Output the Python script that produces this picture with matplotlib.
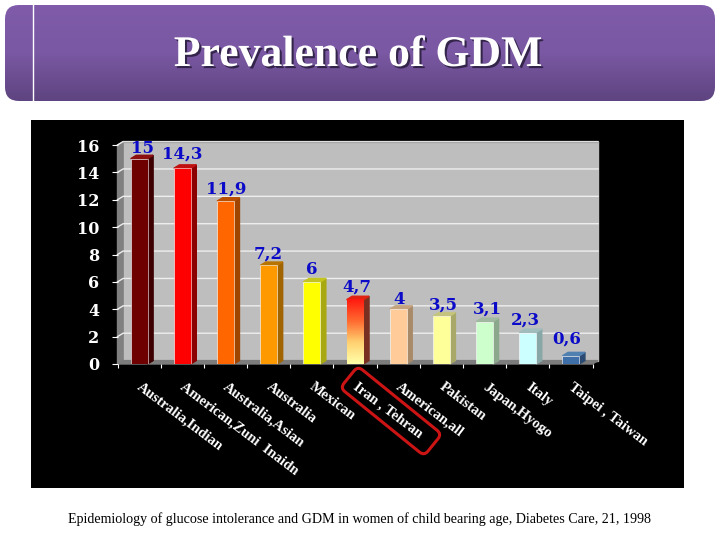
import numpy as np
import matplotlib
matplotlib.use('Agg')
import matplotlib.pyplot as plt
import matplotlib.patheffects as pe
from matplotlib.colors import LinearSegmentedColormap
from matplotlib.patches import FancyBboxPatch, Rectangle
from matplotlib.transforms import Affine2D

plt.rcParams['font.family'] = ['Liberation Serif', 'DejaVu Serif']

categories = ['Australia,Indian', 'American,Zuni  Inaidn', 'Australia,Asian', 'Australia', 'Mexican',
              'Iran , Tehran', 'American,all', 'Pakistan', 'Japan,Hyogo', 'Italy', 'Taipei , Taiwan']
values = [15, 14.3, 11.9, 7.2, 6, 4.7, 4, 3.5, 3.1, 2.3, 0.6]
value_labels = ['15', '14,3', '11,9', '7,2', '6', '4,7', '4', '3,5', '3,1', '2,3', '0,6']
front_colors = ['#6e0000', '#ff0000', '#ff6600', '#ff9900', '#ffff00', '#ff2010',
                '#ffcc99', '#ffff99', '#ccffcc', '#ccffff', '#3f6fa8']
side_colors = ['#3c0000', '#8c0000', '#a04500', '#a06400', '#a8a810', '#7a3020',
               '#a88a68', '#a8a868', '#8ca88c', '#88a8a8', '#2a4a72']
top_colors = ['#8c1010', '#c01010', '#b85000', '#b87400', '#c4c420', '#e02010',
              '#c4a47e', '#c4c47e', '#a0b8a0', '#a0bcbc', '#5080b0']
yticks = [0, 2, 4, 6, 8, 10, 12, 14, 16]

# hand placed value labels, offset from bar top in pixels
label_dx = [3.5, 0, 0.5, 0, 0, 2, 1, 2, 3, -2.5, -4]
label_dy = [6, 10, 8, 7, 8, 8.5, 5, 7, 7.5, 7.5, 12.5]

W, H = 720, 540
fig = plt.figure(figsize=(W / 100, H / 100), dpi=100, facecolor='white')

# slide background, in pixels
bg = fig.add_axes([0, 0, 1, 1])
bg.set_xlim(0, W)
bg.set_ylim(H, 0)
bg.axis('off')

banner = FancyBboxPatch((5, 5), 710, 96, boxstyle='round,pad=0,rounding_size=14',
                        fc='none', ec='none', transform=bg.transData)
bg.add_patch(banner)
purple = LinearSegmentedColormap.from_list('purple', ['#7f5ba9', '#7a58a3', '#5e4480'])
im = bg.imshow(np.linspace(0, 1, 96)[:, None], extent=(5, 715, 101, 5), cmap=purple, aspect='auto')
im.set_clip_path(banner)
bg.set_xlim(0, W)
bg.set_ylim(H, 0)
bg.plot([33, 33], [5, 101], color='white', lw=1)
bg.text(358, 55, 'Prevalence of GDM', color='white', fontsize=31.5, fontweight='bold', ha='center', va='center',
        path_effects=[pe.withSimplePatchShadow(offset=(1.5, -1.5), shadow_rgbFace='#2c1f40', alpha=0.9)])

bg.add_patch(Rectangle((31, 120), 653, 368, fc='black', ec='none'))
bg.text(359.5, 519, 'Epidemiology of glucose intolerance and GDM in women of child bearing age, Diabetes Care, 21, 1998',
        color='black', fontsize=10.1, ha='center', va='center')

# chart axes, 0 and 16 ticks at y=364 and y=145
ax = fig.add_axes([117.5 / W, 1 - 364 / H, 475 / W, 219 / H])
ax.patch.set_alpha(0)
n = len(values)
ax.set_xlim(0, n)
ax.set_ylim(0, 16)
for s in ax.spines.values():
    s.set_visible(False)

dx, dy = 0.13, 0.25
# walls and floor
ax.fill([dx, n + dx, n + dx, dx], [dy, dy, 16 + dy, 16 + dy], color='#bebebe', clip_on=False, zorder=1)
ax.fill([0, dx, dx, 0], [0, dy, 16 + dy, 16], color='#808080', clip_on=False, zorder=1)
ax.fill([0, n, n + dx, dx], [0, 0, dy, dy], color='#7c7c7c', clip_on=False, zorder=1)
for t in yticks[1:]:
    ax.plot([0, dx, n + dx], [t, t + dy, t + dy], color='#eeeeee', lw=1, clip_on=False, zorder=2)
ax.plot([dx, n + dx], [16 + dy, 16 + dy], color='#a8a8a8', lw=1, clip_on=False, zorder=2)

x = np.arange(n) + 0.5
bw = 0.39
bars = ax.bar(x, values, width=bw, color=front_colors, edgecolor='#ffffff', linewidth=0.4, zorder=4)
for xi, v, sc, tc in zip(x, values, side_colors, top_colors):
    r = xi + bw / 2
    l = xi - bw / 2
    ax.fill([r, r + dx, r + dx, r], [0, dy, v + dy, v], color=sc, zorder=3, clip_on=False)
    ax.fill([l, l + dx, r + dx, r], [v, v + dy, v + dy, v], color=tc, zorder=3, clip_on=False)

# gradient on the Iran bar
fade = LinearSegmentedColormap.from_list('fade', ['#ff1a10', '#ff6a30', '#ffd070', '#ffffa8'])
iran = bars[5]
grad = ax.imshow(np.linspace(0, 1, 60)[:, None], cmap=fade, aspect='auto', zorder=5,
                 extent=(iran.get_x(), iran.get_x() + bw, 0, values[5]))
ax.set_xlim(0, n)
ax.set_ylim(0, 16)

for xi, v, lab, ox, oy in zip(x, values, value_labels, label_dx, label_dy):
    ax.annotate(lab, (xi, v), xytext=(ox * 0.72, oy * 0.72), textcoords='offset points', ha='center',
                va='baseline', color='#0a0ac8', fontsize=12, fontweight='bold', family='DejaVu Serif', zorder=6)

ax.set_yticks(yticks)
ax.set_xticks(np.arange(n + 1))
ax.set_xticklabels([])
ax.tick_params(axis='y', colors='white', length=4, width=0.8, pad=9, labelsize=11.5)
ax.tick_params(axis='x', colors='white', length=3, width=0.8)
for lab in ax.get_yticklabels():
    lab.set_fontweight('bold')
    lab.set_family('DejaVu Serif')

for xi, name in zip(x, categories):
    ax.annotate(name, (xi, 0), xytext=(-0.5, -15.5), textcoords='offset points', color='white', fontsize=10.5,
                fontweight='bold', rotation=-37, rotation_mode='anchor', ha='left', va='center')

# red highlight around the Iran label
cx, cy = 391, 411
box = FancyBboxPatch((cx - 54, cy - 14), 108, 28, boxstyle='round,pad=0,rounding_size=6', fc='none',
                     ec='#cc1414', lw=2.2, transform=Affine2D().rotate_deg_around(cx, cy, 39) + bg.transData,
                     clip_on=False, zorder=10)
ax.add_patch(box)

fig.savefig('out.png', dpi=100, facecolor='white')
